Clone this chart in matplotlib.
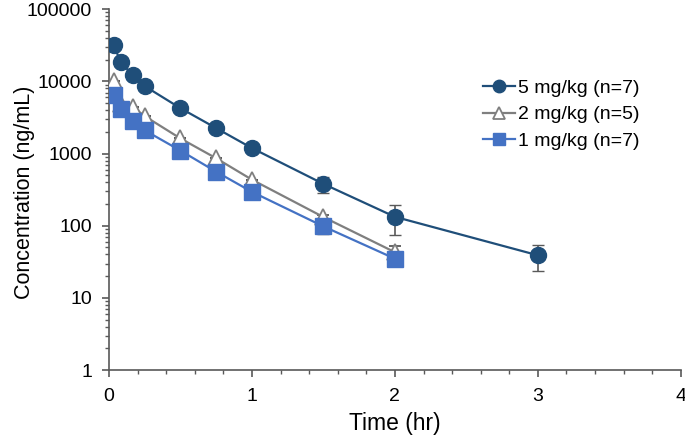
import matplotlib
matplotlib.use("Agg")
import matplotlib.pyplot as plt
from matplotlib.lines import Line2D
from matplotlib.ticker import LogLocator, NullFormatter, MultipleLocator

plt.rcParams['font.family'] = ['Liberation Sans', 'DejaVu Sans']

# Data
t5 = [0.033, 0.083, 0.167, 0.25, 0.5, 0.75, 1.0, 1.5, 2.0, 3.0]
c5 = [32000, 18400, 12200, 8600, 4250, 2250, 1190, 380, 133, 39]
e5 = [0, 0, 0, 0, 0, 0, 0, 100, 58, 15]

t2 = [0.033, 0.083, 0.167, 0.25, 0.5, 0.75, 1.0, 1.5, 2.0]
c2 = [10000, 4800, 4400, 3300, 1620, 860, 435, 132, 43]
e2 = [0, 0, 0, 0, 0, 0, 0, 10, 9]

t1 = [0.033, 0.083, 0.167, 0.25, 0.5, 0.75, 1.0, 1.5, 2.0]
c1 = [6450, 4150, 2850, 2100, 1100, 560, 295, 98, 35]
e1 = [0, 0, 0, 0, 0, 0, 0, 22, 0]

labels = ["5 mg/kg (n=7)", "2 mg/kg (n=5)", "1 mg/kg (n=7)"]

fig = plt.figure(figsize=(6.85, 4.36), dpi=100)
ax = fig.add_axes([0.159, 0.151, 0.835, 0.828])

ecol = '#595959'
styles = [
    dict(color='#1F4E79', marker='o', mfc='#1F4E79', mec='#1F4E79', mew=1.0),
    dict(color='#7F7F7F', marker='^', mfc='white', mec='#7F7F7F', mew=1.3),
    dict(color='#4472C4', marker='s', mfc='#4472C4', mec='#4472C4', mew=1.0),
]
sizes = [11.5, 11, 11]
for (t, c, e), st, ms, z in zip([(t5, c5, e5), (t2, c2, e2), (t1, c1, e1)], styles, sizes, [3, 3, 4]):
    ax.errorbar(t, c, yerr=e, ms=ms, lw=1.6, ecolor=ecol, elinewidth=1.2, capsize=4,
                capthick=1.2, zorder=z, **st)

ax.set_yscale('log')
ax.set_xlim(0, 4)
ax.set_ylim(1, 100000)
ax.set_yticks([1, 10, 100, 1000, 10000, 100000])
ax.set_yticklabels(['1', '10', '100', '1000', '10000', '100000'])
ax.yaxis.set_minor_locator(LogLocator(base=10, subs=range(2, 10), numticks=20))
ax.yaxis.set_minor_formatter(NullFormatter())
ax.xaxis.set_major_locator(MultipleLocator(1))
ax.xaxis.set_minor_locator(MultipleLocator(0.2))

for s in ['top', 'right']:
    ax.spines[s].set_visible(False)
for s in ['left', 'bottom']:
    ax.spines[s].set_color('#595959')
    ax.spines[s].set_linewidth(1.2)
ax.tick_params(which='major', direction='out', length=5, width=1.2, color='#595959',
               labelsize=14, labelcolor='black')
ax.tick_params(axis='y', which='major', pad=7)
ax.tick_params(axis='x', which='major', pad=8)
ax.tick_params(which='minor', direction='out', length=3, width=1.0, color='#595959')

ax.set_xlabel('Time (hr)', fontsize=16.5, labelpad=5)
ax.set_ylabel('Concentration (ng/mL)', fontsize=15.5)
ax.yaxis.set_label_coords(-0.13, 0.493)

handles = [Line2D([], [], lw=1.6, ms=ms * 0.78, **st) for st, ms in zip(styles, sizes)]
leg = ax.legend(handles, labels, loc='upper left', bbox_to_anchor=(0.624, 0.855), frameon=False,
                fontsize=14, handlelength=1.65, handletextpad=0.15, labelspacing=0.47)

fig.savefig('out.png', dpi=100)
